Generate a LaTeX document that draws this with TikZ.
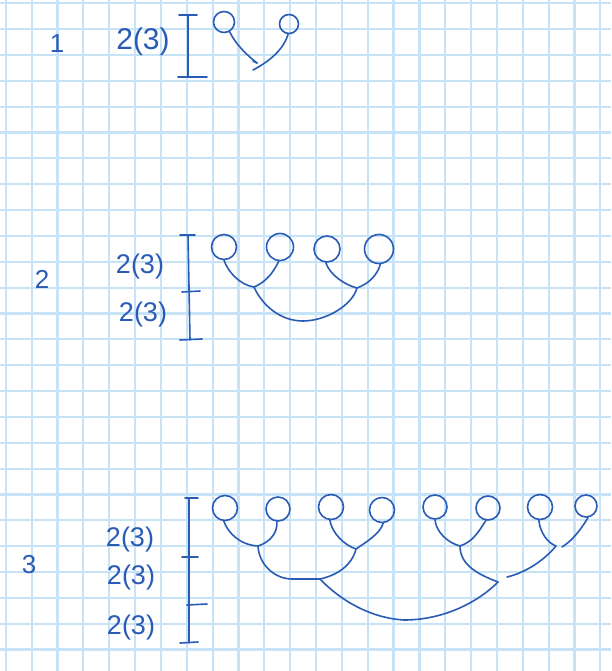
\documentclass[tikz,border=0pt]{standalone}
\usepackage{fontspec}
\setmainfont{Liberation Sans}
\definecolor{inkblue}{RGB}{42,92,182}
\definecolor{gridblue}{RGB}{198,227,247}
\begin{document}
\begin{tikzpicture}[x=1pt,y=-1pt,
  gridline/.style={draw=gridblue,line width=2.2},
  ink/.style={draw=inkblue,line width=1.6,line cap=round,line join=round},
  leaf/.style={circle,draw=inkblue,line width=1.6,inner sep=0pt,minimum size=#1},
  leaf/.default=25,
  lbl/.style={text=inkblue,inner sep=0pt,font=\fontsize{27}{27}\selectfont},
  rowlbl/.style={text=inkblue,inner sep=0pt,font=\fontsize{26}{26}\selectfont}]
\useasboundingbox (0,0) rectangle (611,671);
\fill[white] (0,0) rectangle (611,671);
\foreach \i in {0,...,23} \draw[gridline] ({5.8+25.85*\i},0) -- ({5.8+25.85*\i},671);
\foreach \j in {0,...,25} \draw[gridline] (0,{3.3+25.85*\j}) -- (611,{3.3+25.85*\j});

% ---------- part 1 ----------
\node[rowlbl] (r1) at (57,44) {1};
\node[lbl,font=\fontsize{30}{30}\selectfont] (l1) at (143,42) {2(3)};
\draw[ink] (179,15) -- (197,15) (188,15) -- (188,77) (178,77) -- (207,77);
\node[leaf=21] (a1) at (224,22) {};
\node[leaf=19] (a2) at (289,24) {};
\coordinate (j1) at (257,63);
\coordinate (j1b) at (253,70);
\draw[ink] (a1.-60) .. controls (236,45) and (248,56) .. (j1);
\draw[ink] (j1) -- (253,61);
\draw[ink] (j1b) .. controls (272,60) and (284,48) .. (a2.-95);

% ---------- part 2 ----------
\node[rowlbl] (r2) at (42,279) {2};
\node[lbl] (l2a) at (140,267) {2(3)};
\node[lbl] (l2b) at (143,315) {2(3)};
\draw[ink] (180,235) -- (195,235) (188,235) -- (190,340) (182,292) -- (200,291) (180,340) -- (202,339);
\node[leaf] (b1) at (224,247) {};
\node[leaf=27] (b2) at (280,247) {};
\node[leaf=26] (b3) at (327,249) {};
\node[leaf=29] (b4) at (379,249) {};
\coordinate (c21) at (254,287);
\coordinate (c22) at (357,288);
\coordinate (c2b) at (303,321);
\draw[ink] (b1.south) .. controls (228,272) and (240,285) .. (c21);
\draw[ink] (b2.-95) .. controls (273,273) and (266,282) .. (c21);
\draw[ink] (b3.-95) .. controls (330,275) and (345,285) .. (c22);
\draw[ink] (b4.-85) .. controls (377,276) and (368,284) .. (c22);
\draw[ink] (c21) .. controls (262,305) and (280,321) .. (c2b)
               .. controls (325,321) and (352,306) .. (c22);

% ---------- part 3 ----------
\node[rowlbl] (r3) at (29,565) {3};
\node[lbl] (l3a) at (130,540) {2(3)};
\node[lbl] (l3b) at (131,578) {2(3)};
\node[lbl] (l3c) at (131,628) {2(3)};
\draw[ink] (185,498) -- (198,498) (189,498) -- (189,643) (182,557) -- (198,557)
           (187,605) -- (207,604) (180,643) -- (198,642);
\node[leaf] (d1) at (225,508) {};
\node[leaf=24] (d2) at (278,509) {};
\node[leaf] (d3) at (331,507) {};
\node[leaf] (d4) at (382,510) {};
\node[leaf=24] (d5) at (435,507) {};
\node[leaf=24] (d6) at (488,508) {};
\node[leaf] (d7) at (540,507) {};
\node[leaf=22] (d8) at (586,506) {};
\coordinate (e1) at (258,546);
\coordinate (e2) at (356,549);
\coordinate (e3) at (460,546);
\coordinate (e4) at (556,546);
\draw[ink] (d1.-95) .. controls (228,533) and (240,545) .. (e1);
\draw[ink] (d2.-95) .. controls (278,534) and (268,543) .. (e1);
\draw[ink] (d3.-95) .. controls (332,533) and (344,545) .. (e2);
\draw[ink] (d4.-85) .. controls (380,534) and (366,542) .. (e2);
\draw[ink] (d5.-90) .. controls (436,532) and (448,543) .. (e3);
\draw[ink] (d6.-100) .. controls (478,533) and (472,542) .. (e3);
\draw[ink] (d7.-95) .. controls (540,533) and (548,543) .. (e4);
\draw[ink] (d8.-80) .. controls (578,534) and (570,542) .. (562,547);
\coordinate (f1) at (320,579);
\coordinate (f2) at (498,582);
\draw[ink] (e1) .. controls (259,565) and (275,579) .. (292,579) -- (f1);
\draw[ink] (e2) .. controls (352,565) and (338,575) .. (f1);
\draw[ink] (e3) .. controls (460,566) and (480,575) .. (f2);
\draw[ink] (e4) .. controls (540,565) and (520,574) .. (507,577);
\coordinate (g1) at (404,620);
\draw[ink] (f1) .. controls (340,600) and (370,618) .. (g1)
               .. controls (440,620) and (475,605) .. (f2);
\end{tikzpicture}
\end{document}
